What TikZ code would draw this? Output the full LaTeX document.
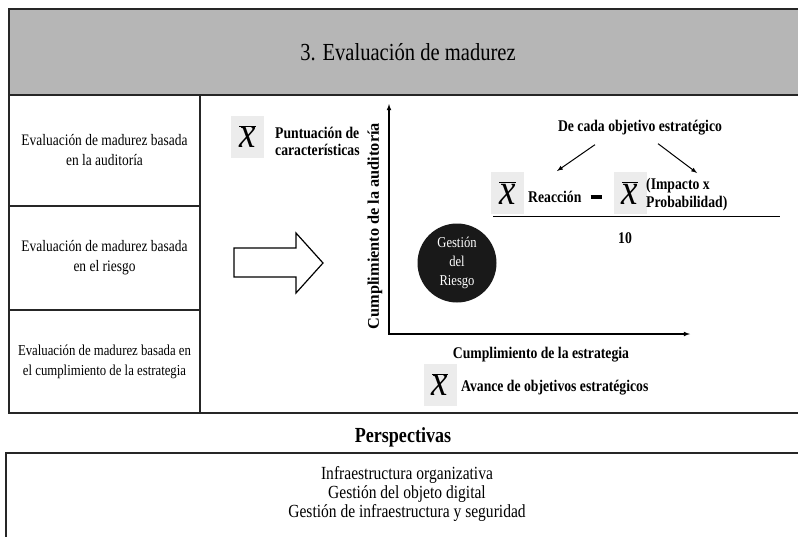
\documentclass[tikz,border=0pt]{standalone}
\usepackage{fontspec}
\setmainfont{Liberation Serif}[FakeStretch=0.84]
\newfontfamily\plainserif{Liberation Serif}
\usetikzlibrary{arrows, calc, positioning}
\definecolor{hdrgray}{RGB}{182,182,182}
\definecolor{xgray}{RGB}{236,236,236}
\newcommand{\xmean}{{\fontsize{44}{44}\selectfont$\overline{\textit{x}}$}}

\begin{document}
\begin{tikzpicture}[x=1pt, y=-1pt,
    frame/.style={draw=black!85, line width=1.2pt},
    cell/.style={draw=black!85, line width=1.2pt, align=center, minimum width=191pt, inner sep=0pt},
    lbl/.style={font=\bfseries\fontsize{16.3}{17}\selectfont, inner sep=0pt},
    xbox/.style={fill=xgray, minimum width=33pt, minimum height=42pt, inner sep=0pt}]
\useasboundingbox (0,0) rectangle (798,536);

% header
\draw[frame, line width=1.6pt, fill=hdrgray] (9,9) rectangle (805,95);
\node[font=\fontsize{24.5}{26}\selectfont] (ttl) at (408,52) {3. Evaluación de madurez};

% left column and right panel
\node[cell, minimum height=111pt, font=\fontsize{16}{20}\selectfont] (c1) at (104.5,150.5) {Evaluación de madurez basada\\en la auditoría};
\node[cell, minimum height=104pt, font=\fontsize{16}{20}\selectfont] (c2) at (104.5,258) {Evaluación de madurez basada\\en el riesgo};
\node[cell, minimum height=103pt, font=\fontsize{15.2}{20}\selectfont] (c3) at (104.5,361.5) {Evaluación de madurez basada en\\el cumplimiento de la estrategia};
\draw[frame] (200,95) rectangle (805,413);

% block arrow
\draw[line width=1.2pt, line join=miter] (234,248) -- (296,248) -- (296,233) -- (323,263)
    -- (296,293) -- (296,277) -- (234,277) -- cycle;

% axes
\coordinate (org) at (389,334);
\coordinate (ytip) at (389,104);
\coordinate (xtip) at (690,334);
\draw[latex-latex, line width=1.1pt] (ytip) -- (org) -- (xtip);
\node[lbl, rotate=90, font=\plainserif\bfseries\fontsize{16.3}{17}\selectfont] (ya) at (375,226) {Cumplimiento de la auditoría};
\node[lbl] (xa) at (541,355) {Cumplimiento de la estrategia};

% audit score
\node[xbox] (x1) at (247.5,136.5) {\xmean};
\node[lbl, align=left, anchor=west] (ps) at (275,141) {Puntuación de\\características};

% strategy progress
\node[xbox] (x4) at (440,384.5) {\xmean};
\node[lbl, anchor=west] (av) at (461,388) {Avance de objetivos estratégicos};

% risk formula
\node[lbl] (dc) at (640,128) {De cada objetivo estratégico};
\node[xbox] (x2) at (507.5,193) {\xmean};
\node[lbl, anchor=west] (re) at (528,197) {Reacción};
\node[inner sep=0pt] (mn) at (596,197) {\rule{11pt}{3.5pt}};
\node[xbox] (x3) at (630,193) {\xmean};
\node[lbl, align=left, anchor=west, font=\bfseries\fontsize{16.3}{18}\selectfont] (ip) at (646,195) {(Impacto x\\Probabilidad)};
\coordinate (fl) at (493,216);
\coordinate (fr) at (780,216);
\draw[line width=1pt] (fl) -- (fr);
\node[lbl] (dz) at (625,238) {10};
\coordinate (al) at (557,171);
\coordinate (ar) at (697,173);
\draw[-latex, line width=1pt] ($(dc.south)+(-45,9)$) -- (al);
\draw[-latex, line width=1pt] ($(dc.south)+(18,8)$) -- (ar);

% risk management
\node[circle, fill=black!90, minimum size=79pt, inner sep=0pt, text=white, align=center,
    font=\fontsize{15}{19}\selectfont] (gr) at (457,263) {Gestión\\del\\Riesgo};

% perspectives
\node[font=\bfseries\fontsize{21.5}{23}\selectfont] (pt) at (403,437) {Perspectivas};
\draw[frame] (6,453) rectangle (805,545);
\node[align=center, font=\fontsize{18.5}{19}\selectfont] (pl) at (407,494)
    {Infraestructura organizativa\\Gestión del objeto digital\\Gestión de infraestructura y seguridad};
\end{tikzpicture}
\end{document}
